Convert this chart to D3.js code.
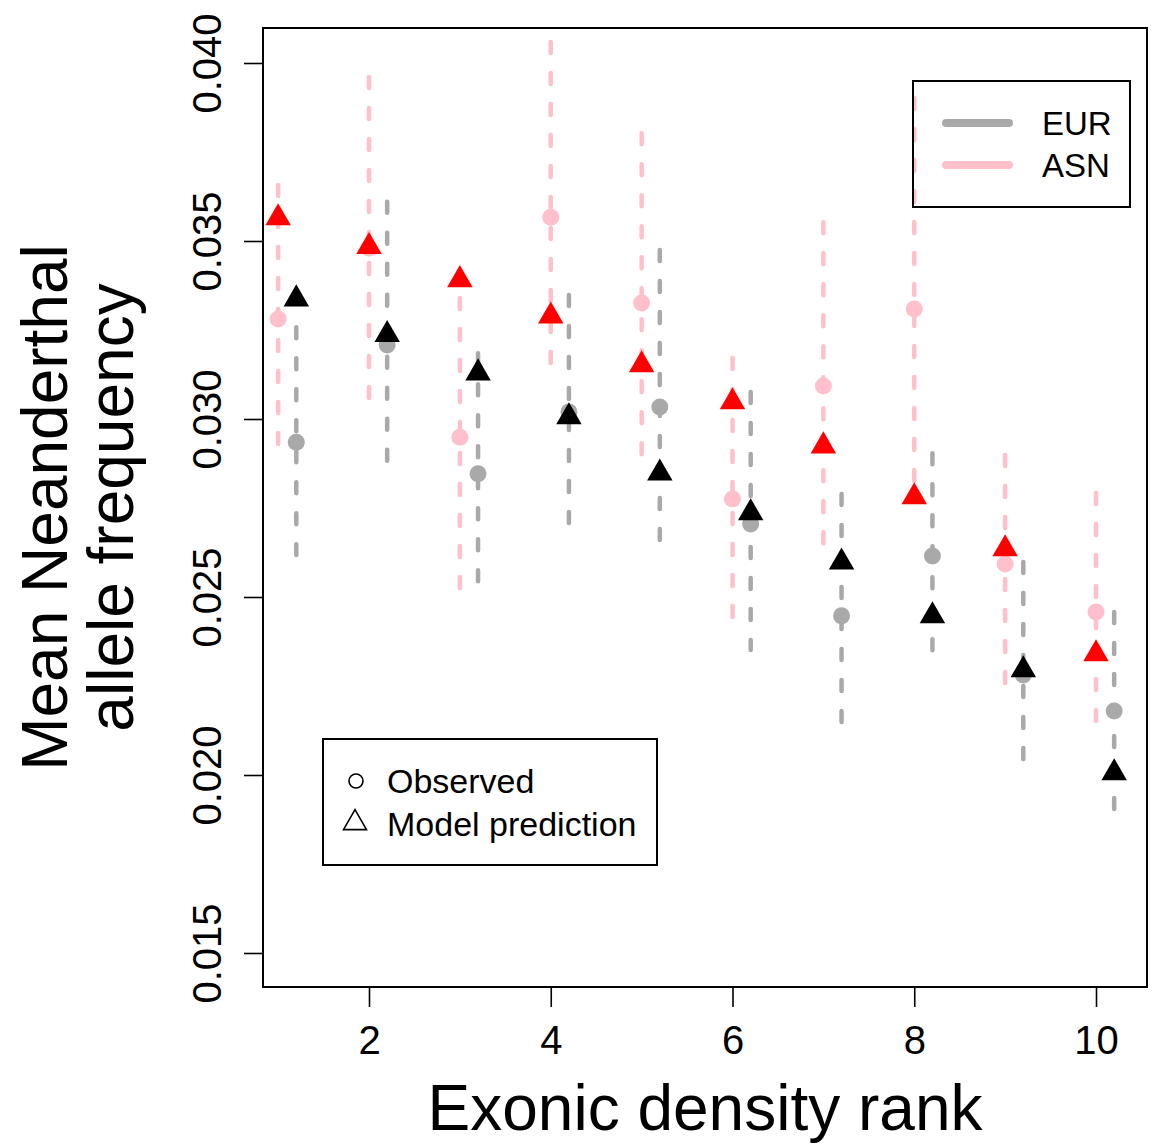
<!DOCTYPE html>
<html lang="en">
  <head>
    <meta charset="UTF-8" />
    <title>Neanderthal allele frequency by exonic density rank</title>
    <style>
      body { margin: 0; background: #fff; }
      svg text { font-family: "Liberation Sans", Arial, Helvetica, sans-serif; fill: #000; }
    </style>
  </head>
  <body>
    <div id="chart"></div>

    <script src="https://d3js.org/d3.v7.min.js"></script>

    <script>
      // data
      const rank = [1, 2, 3, 4, 5, 6, 7, 8, 9, 10];

      const asnObserved = [0.03281, 0.03480, 0.02949, 0.03567, 0.03326, 0.02775, 0.03093, 0.03309, 0.02593, 0.02458];
      const asnLow      = [0.02893, 0.03020, 0.02492, 0.03126, 0.02882, 0.02421, 0.02624, 0.02772, 0.02230, 0.02124];
      const asnHigh     = [0.03657, 0.03961, 0.03340, 0.04059, 0.03803, 0.03171, 0.03553, 0.03902, 0.02899, 0.02792];
      const asnModel    = [0.03565, 0.03484, 0.03391, 0.03289, 0.03152, 0.03048, 0.02924, 0.02781, 0.02635, 0.02340];

      const eurObserved = [0.02935, 0.03208, 0.02846, 0.03020, 0.03034, 0.02705, 0.02447, 0.02615, 0.02281, 0.02180];
      const eurLow      = [0.02618, 0.02848, 0.02517, 0.02677, 0.02660, 0.02351, 0.02140, 0.02323, 0.02020, 0.01882];
      const eurHigh     = [0.03258, 0.03610, 0.03185, 0.03348, 0.03475, 0.03076, 0.02789, 0.02904, 0.02598, 0.02458];
      const eurModel    = [0.03337, 0.03237, 0.03129, 0.03006, 0.02848, 0.02736, 0.02598, 0.02447, 0.02295, 0.02006];

      const xTicks = [2, 4, 6, 8, 10];
      const yTicks = [0.015, 0.020, 0.025, 0.030, 0.035, 0.040];

      const width = 1152;
      const height = 1145;
      const box = { left: 263, top: 28, right: 1147, bottom: 987 };

      const x = d3.scaleLinear().domain([2, 10]).range([369, 1096]);
      const y = d3.scaleLinear().domain([0.015, 0.040]).range([953, 63]);
      const eurShift = 0.2;

      const svg = d3.select("#chart").append("svg")
          .attr("width", width)
          .attr("height", height)
          .attr("viewBox", [0, 0, width, height]);

      const tri = d3.symbol().type(d3.symbolTriangle).size(281);

      function drawSeries(g, shift, obs, lo, hi, model, lineCol, ptCol, modelCol) {
        const I = d3.range(rank.length);
        g.append("g")
          .selectAll("line")
          .data(I)
          .join("line")
            .attr("x1", i => x(rank[i] + shift))
            .attr("x2", i => x(rank[i] + shift))
            .attr("y1", i => y(hi[i]))
            .attr("y2", i => y(lo[i]))
            .attr("stroke", lineCol)
            .attr("stroke-width", 4.5)
            .attr("stroke-linecap", "round")
            .attr("stroke-dasharray", "11 20");
        g.append("g")
          .selectAll("circle")
          .data(I)
          .join("circle")
            .attr("cx", i => x(rank[i] + shift))
            .attr("cy", i => y(obs[i]))
            .attr("r", 8.5)
            .attr("fill", ptCol);
        g.append("g")
          .selectAll("path")
          .data(I)
          .join("path")
            .attr("d", tri)
            .attr("transform", i => `translate(${x(rank[i] + shift)},${y(model[i])})`)
            .attr("fill", modelCol);
      }

      const marks = svg.append("g");
      drawSeries(marks, 0, asnObserved, asnLow, asnHigh, asnModel, "pink", "pink", "red");
      drawSeries(marks, eurShift, eurObserved, eurLow, eurHigh, eurModel, "darkgray", "darkgray", "black");

      // plot frame
      svg.append("rect")
          .attr("x", box.left)
          .attr("y", box.top)
          .attr("width", box.right - box.left)
          .attr("height", box.bottom - box.top)
          .attr("fill", "none")
          .attr("stroke", "#000")
          .attr("stroke-width", 2);

      // x axis
      const xAxis = d3.axisBottom(x).tickValues(xTicks).tickSize(20).tickPadding(19).tickFormat(d3.format("d"));
      svg.append("g")
          .attr("transform", `translate(0,${box.bottom})`)
          .call(xAxis)
          .call(g => g.select(".domain").remove())
          .call(g => g.selectAll(".tick line").attr("stroke-width", 1.6))
          .call(g => g.selectAll(".tick text").attr("font-size", 40).attr("font-family", null));

      // y axis, labels parallel to the axis
      const yAxis = d3.axisLeft(y).tickValues(yTicks).tickSize(19).tickFormat(d3.format(".3f"));
      svg.append("g")
          .attr("transform", `translate(${box.left},0)`)
          .call(yAxis)
          .call(g => g.select(".domain").remove())
          .call(g => g.selectAll(".tick line").attr("stroke-width", 1.6))
          .call(g => g.selectAll(".tick text")
              .attr("font-size", 40)
              .attr("font-family", null)
              .attr("x", null).attr("dy", null)
              .attr("text-anchor", "middle")
              .attr("transform", "translate(-42,0) rotate(-90)"));

      // axis titles
      svg.append("text")
          .attr("x", (box.left + box.right) / 2)
          .attr("y", 1130)
          .attr("text-anchor", "middle")
          .attr("font-size", 64)
          .text("Exonic density rank");

      const yMid = (box.top + box.bottom) / 2;
      svg.append("text")
          .attr("transform", `translate(67,${yMid}) rotate(-90)`)
          .attr("text-anchor", "middle")
          .attr("font-size", 64)
          .text("Mean Neanderthal");
      svg.append("text")
          .attr("transform", `translate(133,${yMid}) rotate(-90)`)
          .attr("text-anchor", "middle")
          .attr("font-size", 64)
          .text("allele frequency");

      // legend: populations
      const leg1 = svg.append("g");
      leg1.append("rect")
          .attr("x", 913).attr("y", 81).attr("width", 217).attr("height", 126)
          .attr("fill", "none").attr("stroke", "#000").attr("stroke-width", 2);
      [["EUR", "darkgray", 123], ["ASN", "pink", 165]].forEach(([lab, col, ly]) => {
        leg1.append("line")
            .attr("x1", 946).attr("x2", 1009).attr("y1", ly).attr("y2", ly)
            .attr("stroke", col).attr("stroke-width", 8).attr("stroke-linecap", "round");
        leg1.append("text")
            .attr("x", 1042).attr("y", ly + 12)
            .attr("font-size", 33)
            .text(lab);
      });

      // legend: symbol meaning
      const leg2 = svg.append("g");
      leg2.append("rect")
          .attr("x", 323).attr("y", 739).attr("width", 334).attr("height", 126)
          .attr("fill", "none").attr("stroke", "#000").attr("stroke-width", 2);
      leg2.append("circle")
          .attr("cx", 356).attr("cy", 781).attr("r", 7)
          .attr("fill", "none").attr("stroke", "#000").attr("stroke-width", 1.6);
      leg2.append("path")
          .attr("d", d3.symbol().type(d3.symbolTriangle).size(229))
          .attr("transform", "translate(355,823)")
          .attr("fill", "none").attr("stroke", "#000").attr("stroke-width", 1.6);
      leg2.append("text").attr("x", 387).attr("y", 793).attr("font-size", 34).text("Observed");
      leg2.append("text").attr("x", 387).attr("y", 836).attr("font-size", 34).text("Model prediction");
    </script>
  </body>
</html>
